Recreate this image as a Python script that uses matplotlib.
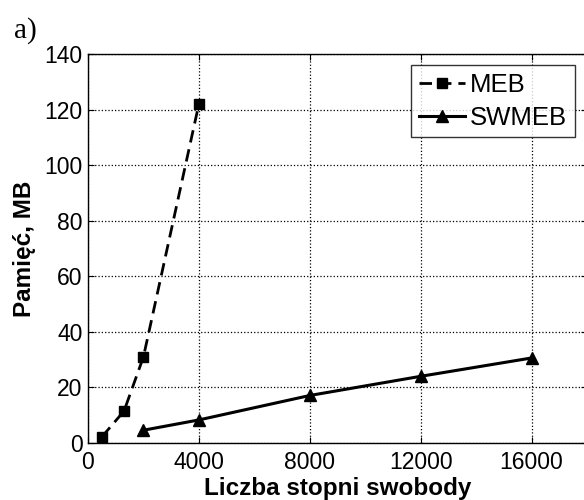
import matplotlib
matplotlib.use("Agg")
import matplotlib.pyplot as plt

meb_x = [500, 1300, 2000, 4000]
meb_y = [2.2, 11.5, 31, 122]
swmeb_x = [2000, 4000, 8000, 12000, 16000]
swmeb_y = [4.6, 8.3, 17.1, 24.0, 30.6]
xticks = [0, 4000, 8000, 12000, 16000]
yticks = [0, 20, 40, 60, 80, 100, 120, 140]

plt.rcParams['font.family'] = ['Liberation Sans', 'DejaVu Sans']

fig = plt.figure(figsize=(5.84, 5.0), dpi=100)
W, H = 584, 500
left, right, top, bottom = 88, 587, 54, 443
ax = fig.add_axes([left / W, 1 - bottom / H, (right - left) / W, (bottom - top) / H])

ax.plot(meb_x, meb_y, color='black', linestyle='--', linewidth=2, dashes=(4.5, 2.5),
        marker='s', markersize=7, label='MEB')
ax.plot(swmeb_x, swmeb_y, color='black', linestyle='-', linewidth=2.2,
        marker='^', markersize=8.5, label='SWMEB')

ax.set_xlim(0, 18000)
ax.set_ylim(0, 140)
ax.set_xticks(xticks)
ax.set_yticks(yticks)
ax.tick_params(labelsize=16.5, direction='in', length=4, top=True, right=True)
ax.tick_params(axis='y', pad=4)
ax.tick_params(axis='x', pad=6)
ax.grid(True, linestyle=':', color='black', linewidth=0.9)
for s in ax.spines.values():
    s.set_linewidth(1.0)

ax.set_xlabel('Liczba stopni swobody', fontsize=17.5, fontweight='bold', labelpad=2)
ax.set_ylabel('Pamięć, MB', fontsize=17.5, fontweight='bold', labelpad=6)

leg = ax.legend(loc='upper right', bbox_to_anchor=((575 - left) / (right - left), (bottom - 65) / (bottom - top)),
                fontsize=18.5, frameon=True, fancybox=False, edgecolor='black',
                handlelength=1.8, handletextpad=0.2, borderpad=0.3, labelspacing=0.35,
                borderaxespad=0)
leg.get_frame().set_linewidth(1.0)

fig.text(25 / W, 1 - 31 / H, 'a)', fontsize=21, family=['Liberation Serif'], va='center', ha='center')

fig.savefig('out.png', dpi=100)
